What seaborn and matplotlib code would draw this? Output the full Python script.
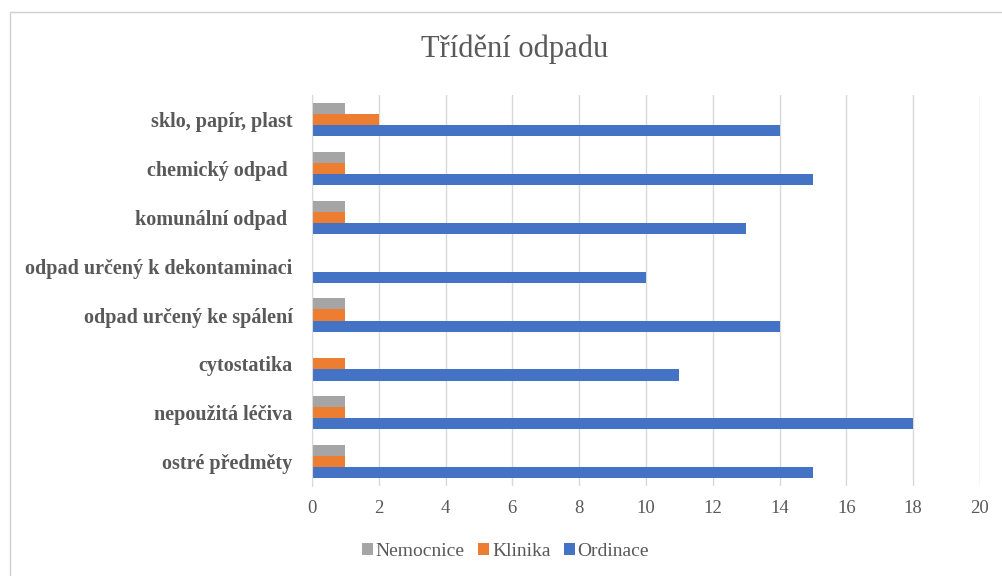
import matplotlib.pyplot as plt
import numpy as np
import pandas as pd
import seaborn as sns
from matplotlib.patches import Rectangle

# data, top to bottom
categories = ['sklo, papír, plast', 'chemický odpad ', 'komunální odpad ',
              'odpad určený k dekontaminaci', 'odpad určený ke spálení',
              'cytostatika', 'nepoužitá léčiva', 'ostré předměty']
nemocnice = [1, 1, 1, 0, 1, 0, 1, 1]
klinika = [2, 1, 1, 0, 1, 1, 1, 1]
ordinace = [14, 15, 13, 10, 14, 11, 18, 15]
series = ['Nemocnice', 'Klinika', 'Ordinace']
colors = ['#A5A5A5', '#ED7D31', '#4472C4']

df = pd.DataFrame({'kategorie': categories,
                   'Nemocnice': nemocnice,
                   'Klinika': klinika,
                   'Ordinace': ordinace})
df = df.melt(id_vars='kategorie', var_name='typ', value_name='pocet')

sns.set_style('white')
plt.rcParams['font.family'] = ['Liberation Serif', 'DejaVu Serif']
text_col = '#595959'

fig = plt.figure(figsize=(10.03, 5.76), dpi=100)
ax = fig.add_axes([0.311, 0.156, 0.666, 0.679])

sns.barplot(data=df, x='pocet', y='kategorie', hue='typ', order=categories,
            hue_order=series, palette=colors, orient='h', width=0.68,
            gap=0, saturation=1, linewidth=0, ax=ax)

ax.set_xlim(0, 20)
ax.set_ylim(len(categories) - 0.5, -0.5)
ax.set_xticks(np.arange(0, 21, 2))
ax.set_xlabel('')
ax.set_ylabel('')
ax.grid(axis='x', color='#D9D9D9', linewidth=1)
ax.set_axisbelow(True)
for s in ['top', 'right', 'bottom']:
    ax.spines[s].set_visible(False)
ax.spines['left'].set_color('#D9D9D9')

ax.tick_params(axis='x', length=0, labelsize=13.5, labelcolor=text_col, pad=10)
ax.tick_params(axis='y', which='major', length=0, labelsize=14.5, labelcolor=text_col, pad=14)
for lab in ax.get_yticklabels():
    lab.set_fontweight('bold')
ax.set_yticks(np.arange(-0.5, len(categories)), minor=True)
ax.tick_params(axis='y', which='minor', length=5, color='#D9D9D9')

fig.suptitle('Třídění odpadu', x=0.513, y=0.94, fontsize=22, color=text_col)

handles, labels = ax.get_legend_handles_labels()
ax.legend(handles, labels, loc='upper center', bbox_to_anchor=(0.29, -0.1),
          ncol=3, frameon=False, fontsize=14, handlelength=0.55, handleheight=0.55,
          handletextpad=0.15, columnspacing=0.7, labelcolor=text_col)

fig.add_artist(Rectangle((0.01, -0.1), 1.2, 1.079, transform=fig.transFigure,
                         fill=False, edgecolor='#D0D0D0', linewidth=1))

fig.savefig('out.png', dpi=100)
